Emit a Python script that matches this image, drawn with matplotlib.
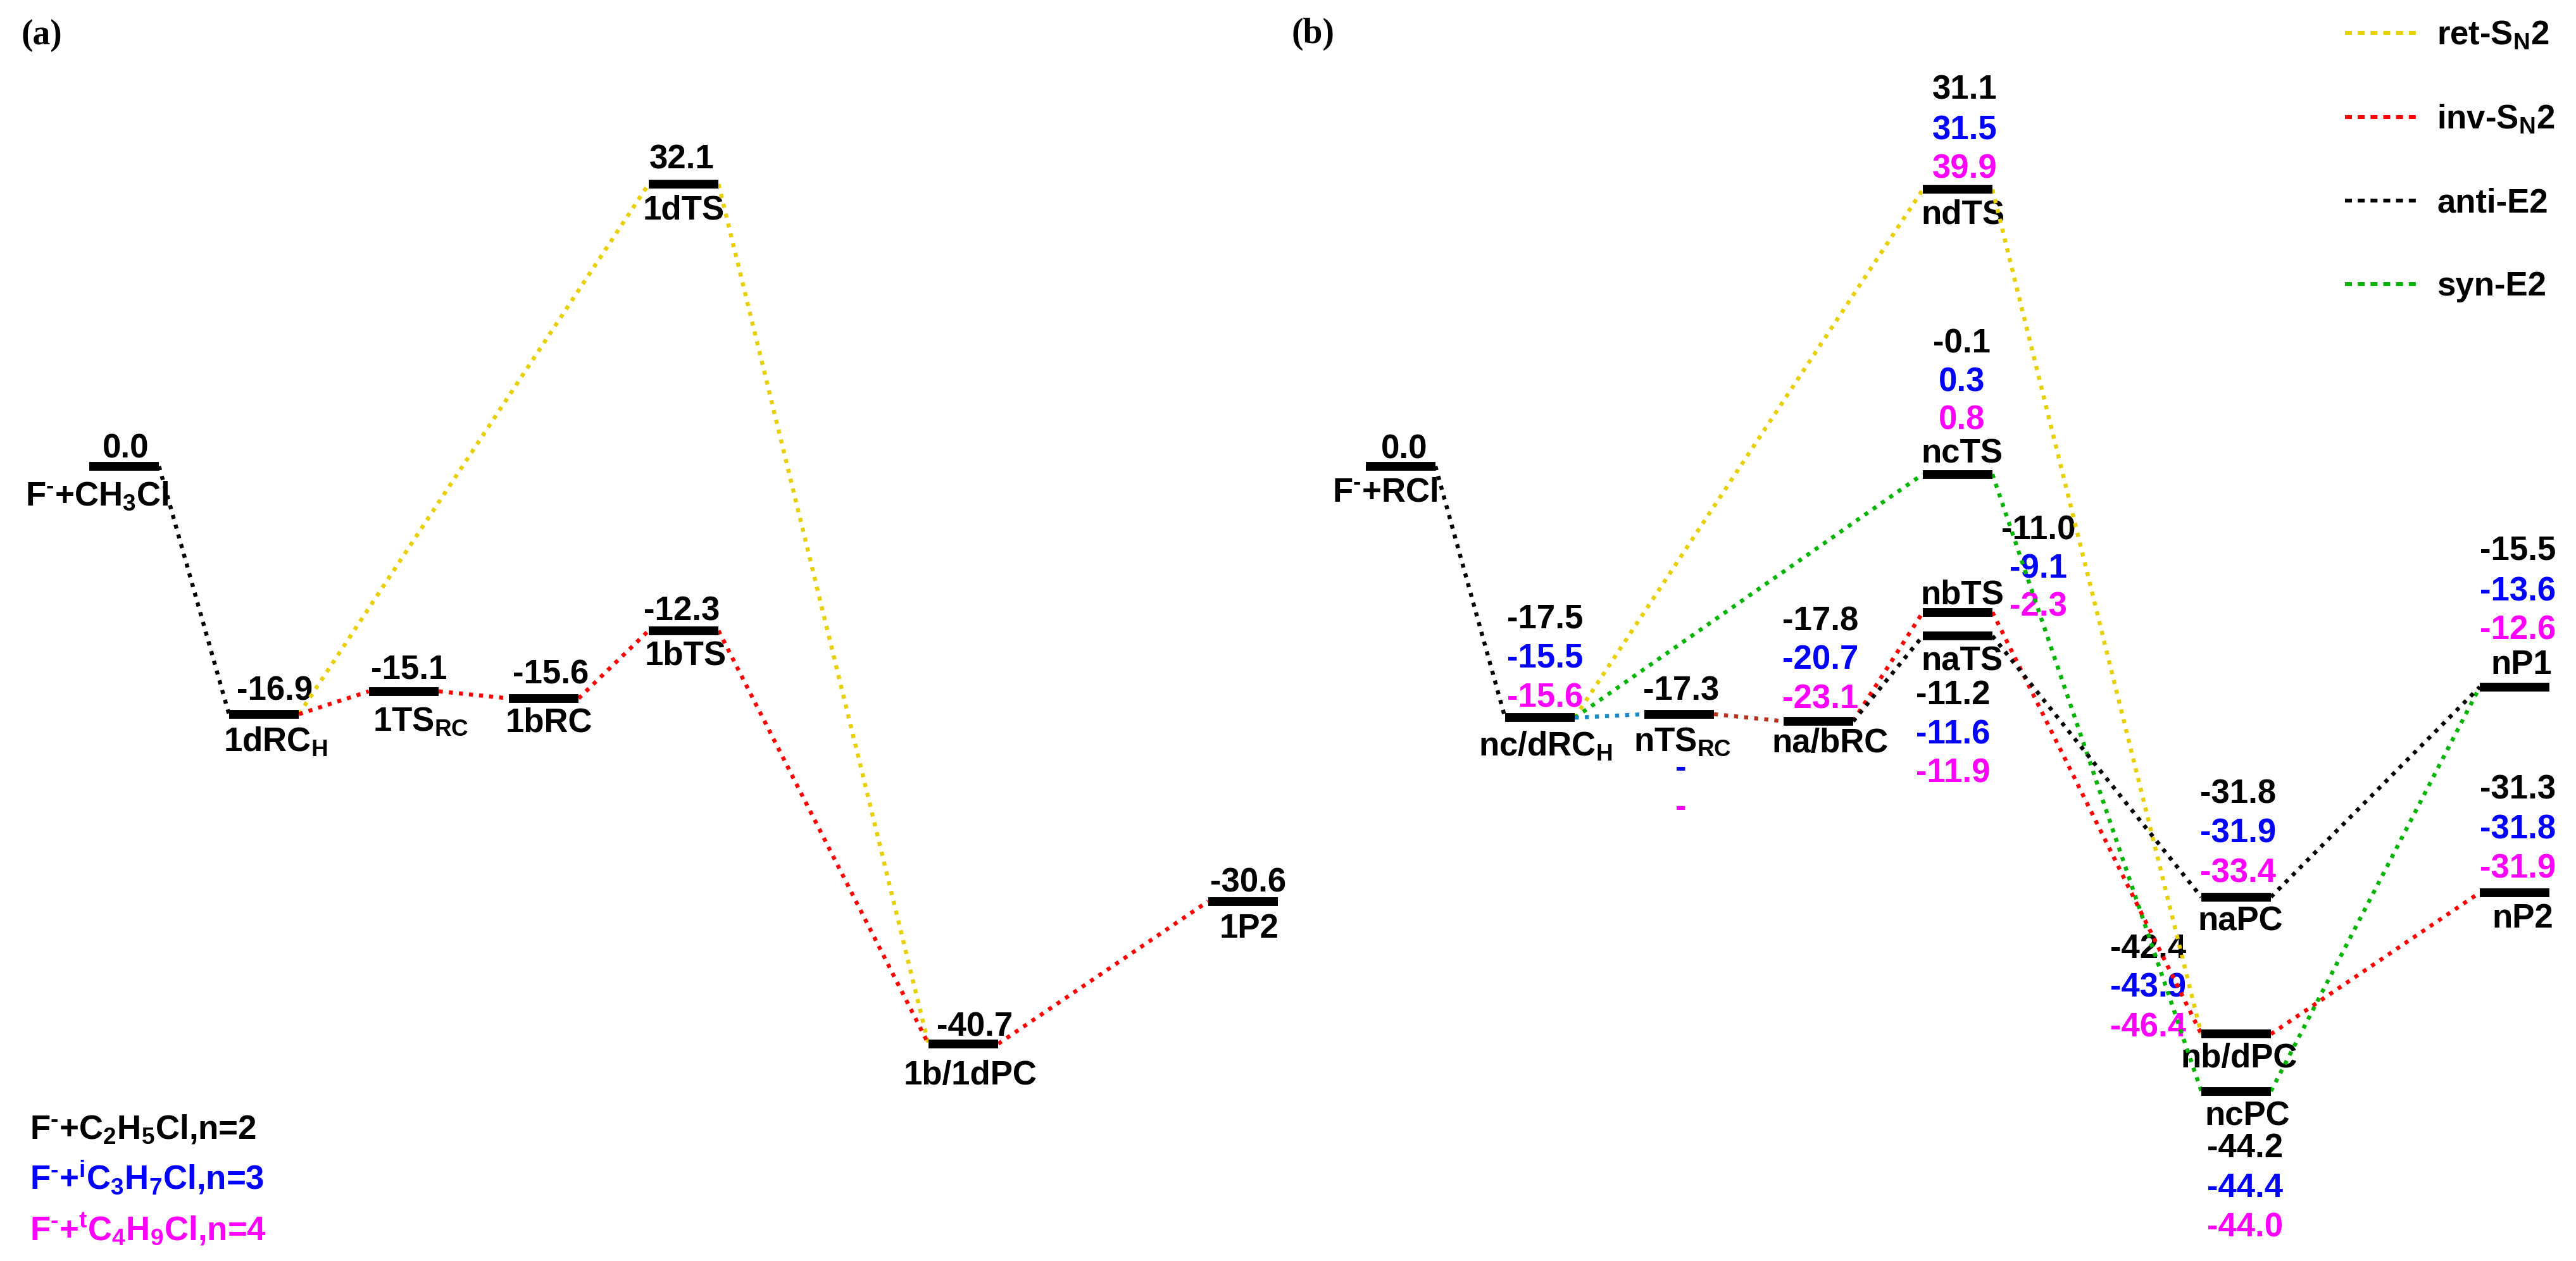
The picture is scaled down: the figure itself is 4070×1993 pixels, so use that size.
import matplotlib
matplotlib.use("Agg")
import matplotlib.pyplot as plt
from matplotlib.lines import Line2D

plt.rcParams['font.family'] = 'Liberation Sans'
plt.rcParams['font.weight'] = 'bold'
plt.rcParams['mathtext.fontset'] = 'custom'
plt.rcParams['mathtext.rm'] = 'Liberation Sans:bold'
plt.rcParams['mathtext.it'] = 'Liberation Sans:bold'
plt.rcParams['mathtext.bf'] = 'Liberation Sans:bold'
plt.rcParams['mathtext.default'] = 'rm'

# ---------------- panel (a) data ----------------
a_names = ['R', 'dRC', 'TSRC', 'bRC', 'bTS', 'dTS', 'PC', 'P2']
a_labels = [r'F$^{\text{-}}$+CH$_3$Cl', '1dRC$_H$', '1TS$_{RC}$', '1bRC', '1bTS', '1dTS', '1b/1dPC', '1P2']
a_energy = ['0.0', '-16.9', '-15.1', '-15.6', '-12.3', '32.1', '-40.7', '-30.6']
a_slot = [0, 1, 2, 3, 4, 4, 6, 8]
# drawn height of each level (diagram is schematic, not to scale)
a_level = [0.0, -28.2, -25.6, -26.4, -18.7, 32.1, -65.7, -49.5]
a_paths = [
    ('#E8CF00', [('dRC', 'dTS'), ('dTS', 'PC')]),
    ('#FF0000', [('dRC', 'TSRC'), ('TSRC', 'bRC'), ('bRC', 'bTS'), ('bTS', 'PC'), ('PC', 'P2')]),
    ('black', [('R', 'dRC')]),
]

# ---------------- panel (b) data ----------------
b_names = ['R', 'RC', 'TSRC', 'abRC', 'bTS', 'aTS', 'cTS', 'dTS', 'aPC', 'bdPC', 'cPC', 'P1', 'P2']
b_labels = [r'F$^{\text{-}}$+RCl', 'nc/dRC$_H$', 'nTS$_{RC}$', 'na/bRC', 'nbTS', 'naTS', 'ncTS', 'ndTS',
            'naPC', 'nb/dPC', 'ncPC', 'nP1', 'nP2']
b_n2 = ['0.0', '-17.5', '-17.3', '-17.8', '-11.0', '-11.2', '-0.1', '31.1', '-31.8', '-42.4', '-44.2', '-15.5', '-31.3']
b_n3 = ['', '-15.5', '-', '-20.7', '-9.1', '-11.6', '0.3', '31.5', '-31.9', '-43.9', '-44.4', '-13.6', '-31.8']
b_n4 = ['', '-15.6', '-', '-23.1', '-2.3', '-11.9', '0.8', '39.9', '-33.4', '-46.4', '-44.0', '-12.6', '-31.9']
b_slot = [0, 1, 2, 3, 4, 4, 4, 4, 6, 6, 6, 8, 8]
b_level = [0.0, -28.6, -28.2, -29.0, -16.6, -19.3, -0.9, 31.5, -49.0, -64.6, -71.1, -25.1, -48.5]
b_paths = [
    ('#E8CF00', [('RC', 'dTS'), ('dTS', 'bdPC')]),
    ('#00B400', [('RC', 'cTS'), ('cTS', 'cPC'), ('cPC', 'P1')]),
    ('#FF0000', [('abRC', 'bTS'), ('bTS', 'bdPC'), ('bdPC', 'P2')]),
    ('black', [('R', 'RC'), ('abRC', 'aTS'), ('aTS', 'aPC'), ('aPC', 'P1')]),
    ('#1E88C0', [('RC', 'TSRC')]),
    ('#B8301E', [('TSRC', 'abRC')]),
]

legend_names = ['ret-S$_N$2', 'inv-S$_N$2', 'anti-E2', 'syn-E2']
legend_colors = ['#E8CF00', '#FF0000', 'black', '#00B400']
series_text = [r'F$^{\text{-}}$+C$_2$H$_5$Cl,n=2', r'F$^{\text{-}}$+$^i$C$_3$H$_7$Cl,n=3',
               r'F$^{\text{-}}$+$^t$C$_4$H$_9$Cl,n=4']
series_colors = ['black', '#0000FF', '#FF00FF']

# ---------------- text layout (offsets in points from bar centre) ----------------
a_value_off = [(1, 5), (6, 8), (3, 7.4), (4, 8.5), (-1, 6), (-1, 8.8), (6.5, 4.5), (3, 5.6)]
a_label_off = [(25.6, -22.3), (6.5, -21.2), (9.7, -22.3), (3, -19), (1, -19.4), (0, -20), (4, -23), (3.6, -20.5)]
a_label_ha = ['right'] + ['center'] * 7

b_value_dx = [2, 3, 1, 1, 46, -2.5, 2.5, 4, 1, -50, 5, 2, 2]
b_value_dy = [(4.5, 0, 0), (50.9, 28.6, 5.9), (8, -36.2, -58.5), (51.7, 29.7, 7.4),
              (41.6, 19.6, -2.3), (-39, -61.4, -83.3), (69.3, 47.3, 25.4), (51.3, 28.6, 6.3),
              (53.5, 31.1, 8.5), (43.4, 21.1, -1.6), (-37.6, -60.3, -82.6), (72.5, 49.1, 27.2),
              (53.5, 30.8, 8.5)]
b_label_off = [(21, -20), (3, -21.6), (2, -21), (6.5, -17.6), (2.5, 4.7), (2.5, -19.4), (2.5, 6.5),
               (3, -19.4), (2.5, -19), (1.5, -19), (6.5, -19.4), (4, 7.6), (4.7, -20)]
b_label_ha = ['right'] + ['center'] * 12

FS = 19
HALF = 0.25
DOTS = (0, (1, 1.5))

PX_W, PX_H = 4070, 1993
SPLIT = 2035
fig = plt.figure(figsize=(PX_W / 200, PX_H / 200), dpi=200)
ax_a = fig.add_axes([0, 0, SPLIT / PX_W, 1])
ax_b = fig.add_axes([SPLIT / PX_W, 0, (PX_W - SPLIT) / PX_W, 1])
ax_a.set_xlim(-196 / 221, (SPLIT - 196) / 221)
ax_b.set_xlim((SPLIT - 2213) / 220, (PX_W - 2213) / 220)
for ax in (ax_a, ax_b):
    ax.set_ylim(-90.42, 53.06)
    ax.axis('off')


def draw_diagram(ax, names, slots, levels, paths):
    idx = {n: i for i, n in enumerate(names)}
    for color, pairs in paths:
        for p, q in pairs:
            i, j = idx[p], idx[q]
            ax.plot([slots[i] + HALF, slots[j] - HALF], [levels[i], levels[j]],
                    color=color, lw=2.3, ls=DOTS, zorder=3)
    ax.hlines(levels, [s - HALF for s in slots], [s + HALF for s in slots],
              colors='black', lw=5, zorder=4, capstyle='butt')


def put(ax, text, x, y, off, color='black', ha='center'):
    if text:
        ax.annotate(text, (x, y), xytext=off, textcoords='offset points', ha=ha,
                    va='baseline', color=color, fontsize=FS, fontweight='bold', zorder=2)


draw_diagram(ax_a, a_names, a_slot, a_level, a_paths)
for i in range(len(a_names)):
    put(ax_a, a_energy[i], a_slot[i], a_level[i], a_value_off[i])
    put(ax_a, a_labels[i], a_slot[i], a_level[i], a_label_off[i], ha=a_label_ha[i])

draw_diagram(ax_b, b_names, b_slot, b_level, b_paths)
for i in range(len(b_names)):
    for val, dy, col in zip((b_n2[i], b_n3[i], b_n4[i]), b_value_dy[i], series_colors):
        put(ax_b, val, b_slot[i], b_level[i], (b_value_dx[i], dy), color=col)
    put(ax_b, b_labels[i], b_slot[i], b_level[i], b_label_off[i], ha=b_label_ha[i])

handles = [Line2D([], [], color=c, lw=2.2, ls=(0, (1.8, 1.5))) for c in legend_colors]
ax_b.legend(handles, legend_names, loc='upper left', bbox_to_anchor=(3705 / PX_W, 1 - 31 / PX_H),
            bbox_transform=fig.transFigure, frameon=False, fontsize=FS, handlelength=2.2,
            handletextpad=0.55, labelspacing=1.55, borderpad=0, borderaxespad=0)

for k, (txt, col) in enumerate(zip(series_text, series_colors)):
    fig.text(47 / PX_W, 1 - (1799 + 80 * k) / PX_H, txt, color=col, fontsize=FS,
             fontweight='bold', va='baseline')

fig.text(33 / PX_W, 1 - 70 / PX_H, '(a)', family='Liberation Serif', fontweight='bold', fontsize=20, va='baseline')
fig.text(2040 / PX_W, 1 - 68 / PX_H, '(b)', family='Liberation Serif', fontweight='bold', fontsize=20, va='baseline')

fig.savefig('out.png', dpi=200, facecolor='white')
